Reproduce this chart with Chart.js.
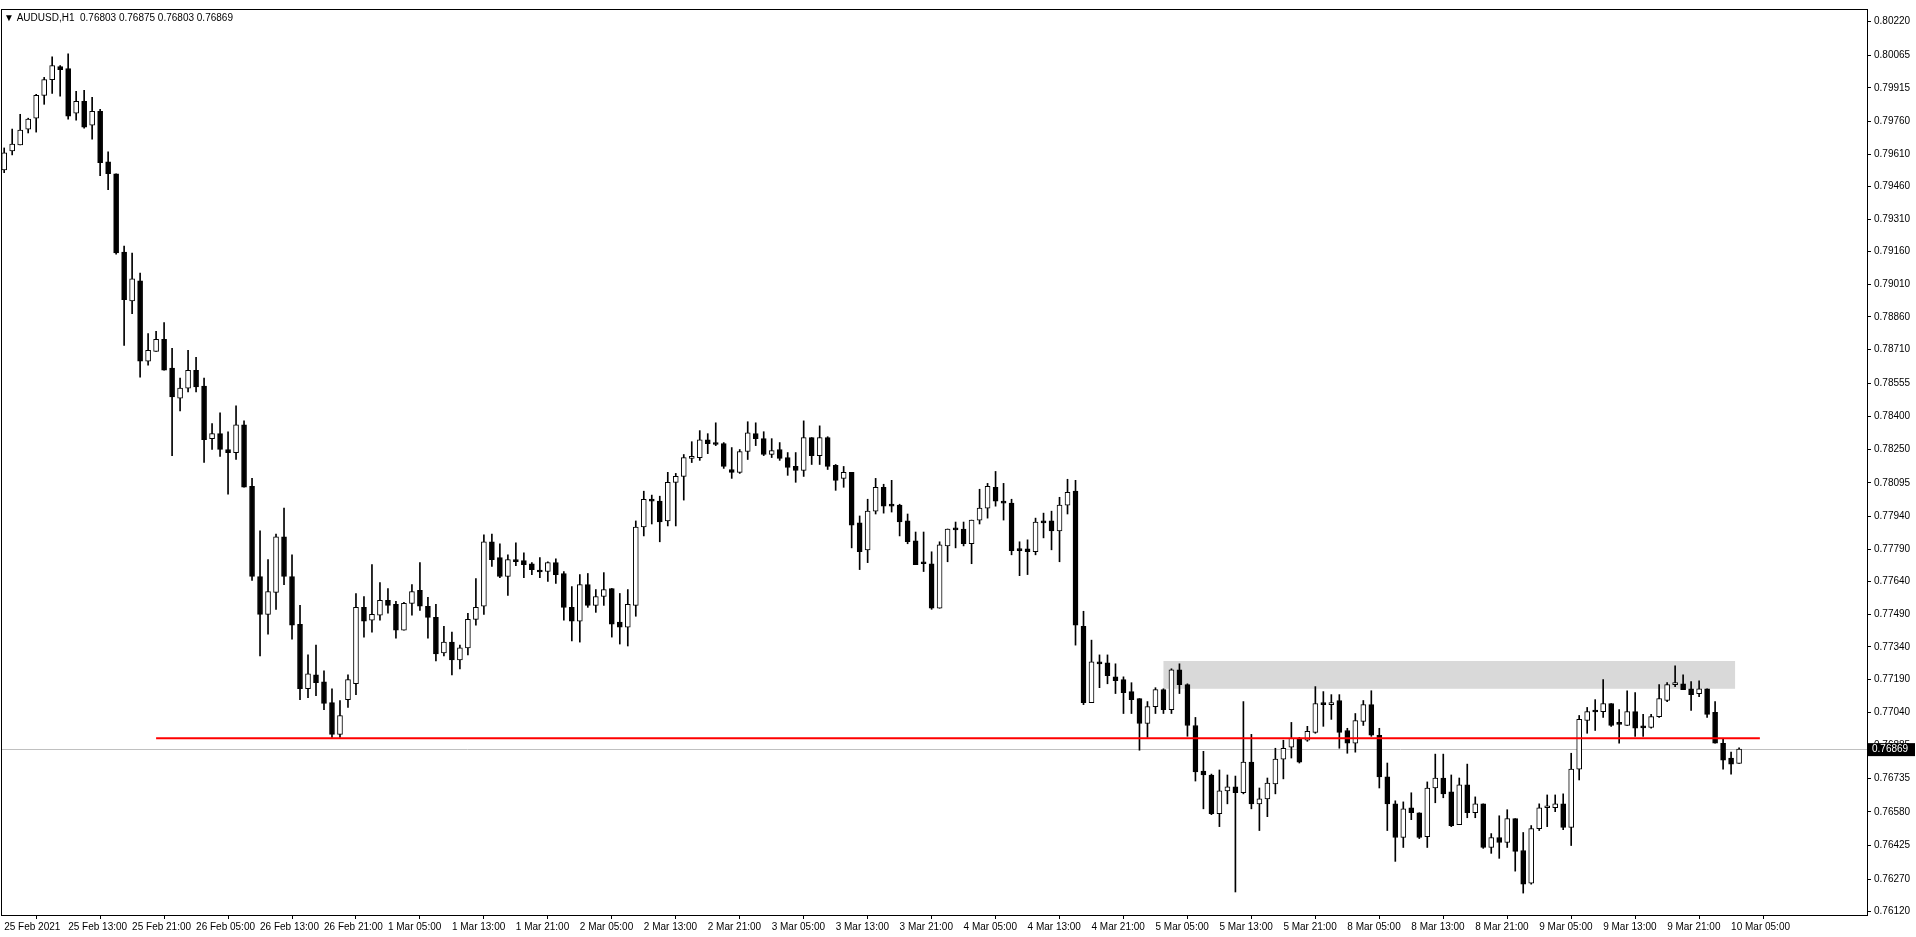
<!DOCTYPE html>
<html><head><meta charset="utf-8">
<script src="https://cdn.jsdelivr.net/npm/chart.js@4"></script>
<style>html,body{margin:0;padding:0;background:#fff;overflow:hidden}#wrap{width:1916px;height:937px;position:relative}</style>
</head><body><div id="wrap"><canvas id="c"></canvas></div>
<script>
const opens=[0.79537,0.79624,0.79652,0.79725,0.79775,0.79880,0.79953,0.80013,0.80004,0.79798,0.79853,0.79743,0.79807,0.79574,0.79519,0.79158,0.78934,0.79026,0.78656,0.78701,0.78756,0.78624,0.78486,0.78532,0.78614,0.78541,0.78299,0.78322,0.78249,0.78235,0.78363,0.78080,0.77664,0.77490,0.77591,0.77847,0.77664,0.77444,0.77147,0.77211,0.77179,0.77083,0.76937,0.77097,0.77170,0.77522,0.77463,0.77486,0.77554,0.77536,0.77417,0.77540,0.77600,0.77527,0.77476,0.77312,0.77362,0.77280,0.77335,0.77467,0.77527,0.77824,0.77751,0.77664,0.77742,0.77737,0.77723,0.77687,0.77687,0.77728,0.77678,0.77522,0.77458,0.77627,0.77531,0.77572,0.77609,0.77454,0.77431,0.77531,0.77892,0.78020,0.78011,0.77920,0.78098,0.78125,0.78208,0.78212,0.78294,0.78281,0.78276,0.78157,0.78144,0.78240,0.78322,0.78299,0.78226,0.78249,0.78212,0.78171,0.78153,0.78304,0.78221,0.78304,0.78176,0.78116,0.78144,0.77911,0.77787,0.77965,0.78075,0.77993,0.77993,0.77920,0.77828,0.77728,0.77723,0.77518,0.77805,0.77888,0.77883,0.77815,0.77924,0.77979,0.78075,0.78011,0.78002,0.77792,0.77792,0.77778,0.77920,0.77920,0.77874,0.77993,0.78057,0.77435,0.77083,0.77271,0.77266,0.77202,0.77189,0.77134,0.77102,0.76987,0.77065,0.77143,0.77051,0.77234,0.77166,0.76978,0.76768,0.76750,0.76572,0.76677,0.76695,0.76668,0.76809,0.76617,0.76640,0.76709,0.76823,0.76878,0.76919,0.76910,0.76946,0.77079,0.77074,0.77093,0.76955,0.76896,0.76997,0.77074,0.76933,0.76741,0.76617,0.76462,0.76599,0.76576,0.76466,0.76690,0.76736,0.76672,0.76521,0.76704,0.76576,0.76617,0.76416,0.76462,0.76439,0.76549,0.76402,0.76252,0.76503,0.76599,0.76599,0.76617,0.76508,0.76777,0.77001,0.77042,0.77042,0.77079,0.76987,0.76978,0.77042,0.76969,0.76969,0.77019,0.77093,0.77166,0.77170,0.77147,0.77125,0.77147,0.77038,0.76896,0.76828,0.76803];
const highs=[0.79638,0.79725,0.79793,0.79775,0.79885,0.79963,0.80058,0.80017,0.80072,0.79899,0.79903,0.79871,0.79816,0.79620,0.79519,0.79186,0.79154,0.79062,0.78783,0.78793,0.78834,0.78715,0.78578,0.78706,0.78674,0.78578,0.78368,0.78418,0.78331,0.78450,0.78381,0.78116,0.77874,0.77742,0.77860,0.77979,0.77764,0.77531,0.77303,0.77348,0.77230,0.77147,0.77093,0.77211,0.77586,0.77572,0.77719,0.77636,0.77609,0.77550,0.77545,0.77627,0.77728,0.77568,0.77536,0.77435,0.77408,0.77348,0.77495,0.77655,0.77856,0.77860,0.77815,0.77764,0.77819,0.77773,0.77728,0.77751,0.77732,0.77746,0.77687,0.77618,0.77673,0.77678,0.77604,0.77682,0.77609,0.77586,0.77604,0.77920,0.78057,0.78039,0.78034,0.78144,0.78139,0.78226,0.78285,0.78336,0.78322,0.78372,0.78281,0.78258,0.78249,0.78377,0.78372,0.78331,0.78299,0.78281,0.78235,0.78235,0.78381,0.78304,0.78358,0.78308,0.78180,0.78171,0.78144,0.77943,0.78020,0.78116,0.78089,0.78107,0.77997,0.77952,0.77869,0.77869,0.77778,0.77824,0.77883,0.77915,0.77915,0.77924,0.78066,0.78093,0.78148,0.78093,0.78020,0.77824,0.77833,0.77933,0.77956,0.77965,0.78029,0.78112,0.78107,0.77504,0.77371,0.77303,0.77303,0.77262,0.77202,0.77175,0.77102,0.77088,0.77152,0.77147,0.77239,0.77262,0.77170,0.77015,0.76859,0.76754,0.76773,0.76750,0.76745,0.77088,0.76937,0.76690,0.76736,0.76873,0.76910,0.76992,0.76923,0.76974,0.77157,0.77134,0.77120,0.77120,0.76965,0.77033,0.77093,0.77138,0.76965,0.76805,0.76631,0.76626,0.76668,0.76576,0.76718,0.76846,0.76846,0.76750,0.76736,0.76800,0.76649,0.76617,0.76480,0.76562,0.76590,0.76549,0.76485,0.76517,0.76617,0.76658,0.76658,0.76663,0.76850,0.77024,0.77061,0.77097,0.77189,0.77079,0.77051,0.77138,0.77129,0.77029,0.77029,0.77166,0.77175,0.77253,0.77211,0.77180,0.77184,0.77147,0.77088,0.76919,0.76855,0.76875];
const lows=[0.79524,0.79606,0.79652,0.79707,0.79711,0.79839,0.79889,0.79876,0.79771,0.79766,0.79729,0.79679,0.79510,0.79446,0.79149,0.78729,0.78875,0.78582,0.78637,0.78701,0.78614,0.78221,0.78427,0.78514,0.78514,0.78189,0.78249,0.78217,0.78043,0.78203,0.78075,0.77646,0.77298,0.77399,0.77513,0.77627,0.77376,0.77097,0.77106,0.77115,0.77051,0.76923,0.76923,0.77061,0.77120,0.77385,0.77408,0.77463,0.77495,0.77380,0.77417,0.77486,0.77508,0.77380,0.77275,0.77298,0.77211,0.77239,0.77303,0.77440,0.77490,0.77710,0.77659,0.77577,0.77714,0.77659,0.77673,0.77659,0.77641,0.77632,0.77463,0.77367,0.77362,0.77522,0.77499,0.77531,0.77385,0.77353,0.77344,0.77481,0.77851,0.77906,0.77824,0.77897,0.77897,0.78016,0.78189,0.78199,0.78230,0.78267,0.78162,0.78116,0.78139,0.78203,0.78267,0.78221,0.78212,0.78199,0.78130,0.78098,0.78125,0.78180,0.78180,0.78157,0.78061,0.78075,0.77796,0.77696,0.77728,0.77952,0.77956,0.77961,0.77851,0.77815,0.77719,0.77687,0.77513,0.77518,0.77732,0.77796,0.77805,0.77723,0.77906,0.77933,0.77988,0.77924,0.77764,0.77668,0.77673,0.77764,0.77842,0.77787,0.77732,0.77952,0.77348,0.77074,0.77083,0.77152,0.77170,0.77125,0.77033,0.77033,0.76864,0.76923,0.77033,0.77033,0.77033,0.77125,0.76928,0.76722,0.76594,0.76567,0.76512,0.76617,0.76211,0.76663,0.76594,0.76494,0.76558,0.76663,0.76732,0.76828,0.76805,0.76905,0.76942,0.76974,0.77006,0.76873,0.76850,0.76855,0.76978,0.76928,0.76690,0.76494,0.76352,0.76416,0.76544,0.76457,0.76416,0.76622,0.76645,0.76512,0.76521,0.76553,0.76553,0.76412,0.76389,0.76366,0.76416,0.76307,0.76206,0.76247,0.76494,0.76512,0.76581,0.76498,0.76425,0.76727,0.76942,0.76955,0.77015,0.76974,0.76896,0.76978,0.76928,0.76928,0.76965,0.77015,0.77088,0.77157,0.77143,0.77047,0.77111,0.77015,0.76896,0.76777,0.76754,0.76803];
const closes=[0.79615,0.79656,0.79720,0.79771,0.79880,0.79953,0.80017,0.79999,0.79784,0.79853,0.79734,0.79807,0.79570,0.79519,0.79154,0.78939,0.79035,0.78656,0.78706,0.78756,0.78614,0.78491,0.78532,0.78614,0.78537,0.78294,0.78322,0.78249,0.78235,0.78363,0.78075,0.77664,0.77490,0.77595,0.77847,0.77664,0.77440,0.77147,0.77216,0.77175,0.77079,0.76937,0.77024,0.77189,0.77522,0.77458,0.77490,0.77554,0.77531,0.77417,0.77540,0.77595,0.77527,0.77476,0.77307,0.77362,0.77280,0.77335,0.77467,0.77522,0.77824,0.77742,0.77664,0.77742,0.77732,0.77719,0.77696,0.77685,0.77728,0.77673,0.77522,0.77458,0.77627,0.77531,0.77572,0.77604,0.77444,0.77431,0.77536,0.77892,0.78020,0.78011,0.77915,0.78098,0.78125,0.78212,0.78212,0.78294,0.78276,0.78272,0.78171,0.78144,0.78240,0.78326,0.78299,0.78226,0.78244,0.78208,0.78167,0.78153,0.78304,0.78221,0.78304,0.78171,0.78107,0.78144,0.77901,0.77778,0.77965,0.78075,0.77988,0.77988,0.77915,0.77824,0.77719,0.77723,0.77518,0.77810,0.77883,0.77879,0.77815,0.77924,0.77979,0.78080,0.78011,0.78002,0.77783,0.77783,0.77778,0.77915,0.77911,0.77874,0.77993,0.78052,0.77440,0.77083,0.77271,0.77262,0.77207,0.77184,0.77129,0.77097,0.76987,0.77065,0.77143,0.77051,0.77234,0.77166,0.76978,0.76764,0.76750,0.76572,0.76677,0.76695,0.76668,0.76809,0.76617,0.76640,0.76713,0.76823,0.76873,0.76919,0.76809,0.76951,0.77079,0.77074,0.77083,0.76946,0.76896,0.77001,0.77074,0.76933,0.76741,0.76617,0.76462,0.76594,0.76576,0.76462,0.76690,0.76736,0.76663,0.76517,0.76704,0.76576,0.76617,0.76416,0.76462,0.76439,0.76549,0.76398,0.76247,0.76503,0.76599,0.76604,0.76617,0.76508,0.76777,0.77006,0.77042,0.77040,0.77079,0.76978,0.76983,0.77042,0.76965,0.76967,0.77019,0.77102,0.77166,0.77168,0.77143,0.77120,0.77147,0.77029,0.76896,0.76818,0.76800,0.76869];
const timeLabels=['25 Feb 2021','25 Feb 13:00','25 Feb 21:00','26 Feb 05:00','26 Feb 13:00','26 Feb 21:00','1 Mar 05:00','1 Mar 13:00','1 Mar 21:00','2 Mar 05:00','2 Mar 13:00','2 Mar 21:00','3 Mar 05:00','3 Mar 13:00','3 Mar 21:00','4 Mar 05:00','4 Mar 13:00','4 Mar 21:00','5 Mar 05:00','5 Mar 13:00','5 Mar 21:00','8 Mar 05:00','8 Mar 13:00','8 Mar 21:00','9 Mar 05:00','9 Mar 13:00','9 Mar 21:00','10 Mar 05:00'];
const labelIdx=timeLabels.map((_,k)=>k*8);
const priceTicks=[0.80220,0.80065,0.79915,0.79760,0.79610,0.79460,0.79310,0.79160,0.79010,0.78860,0.78710,0.78555,0.78400,0.78250,0.78095,0.77940,0.77790,0.77640,0.77490,0.77340,0.77190,0.77040,0.76885,0.76735,0.76580,0.76425,0.76270,0.76120];
const supportLevel=0.76919, supportFrom=19, supportTo=219.6;
const zoneLow=0.77147, zoneHigh=0.77275, zoneFrom=145, zoneTo=216.5;
const lastPrice=0.76869;
const header='\u25BC AUDUSD,H1  0.76803 0.76875 0.76803 0.76869';

const idx=opens.map((_,i)=>i);
const FONT={family:'Liberation Sans, Arial, sans-serif',size:10};
const deco={id:'deco',
 beforeDatasetsDraw(ch){const {ctx,chartArea:a,scales:{x,y}}=ch;ctx.save();
  ctx.fillStyle='#d9d9d9';const x0=x.getPixelForValue(zoneFrom),x1=x.getPixelForValue(zoneTo),y0=y.getPixelForValue(zoneHigh),y1=y.getPixelForValue(zoneLow);
  ctx.fillRect(x0,y0,x1-x0,y1-y0);
  const py=Math.round(y.getPixelForValue(lastPrice))+0.5;ctx.strokeStyle='#c0c0c0';ctx.lineWidth=1;ctx.beginPath();ctx.moveTo(a.left,py);ctx.lineTo(a.right,py);ctx.stroke();ctx.restore();},
 afterDraw(ch){const {ctx,chartArea:a,scales:{y}}=ch;ctx.save();
  ctx.strokeStyle='#000';ctx.lineWidth=1;ctx.strokeRect(a.left+0.5,a.top+0.5,a.right-a.left,a.bottom-a.top);
  ctx.font='10px Liberation Sans, Arial, sans-serif';ctx.fillStyle='#000';ctx.textBaseline='middle';ctx.textAlign='left';ctx.fillText(header,a.left+3,a.top+9);
  const py=y.getPixelForValue(lastPrice);ctx.fillStyle='#000';ctx.fillRect(a.right+1,py-6,47,13);ctx.fillStyle='#fff';ctx.fillText(lastPrice.toFixed(5),a.right+5,py+0.5);
  ctx.restore();}};
new Chart(document.getElementById('c'),{
 type:'bar',
 data:{datasets:[
  {label:'wick',data:idx.map(i=>({x:i,y:[lows[i],highs[i]]})),backgroundColor:'#000',barThickness:1,grouped:false,order:2},
  {label:'body',data:idx.map(i=>({x:i,y:[Math.min(opens[i],closes[i]),Math.max(opens[i],closes[i])]})),
   backgroundColor:idx.map(i=>closes[i]>opens[i]?'#fff':'#000'),borderColor:'#000',borderWidth:1,borderSkipped:false,barThickness:5,minBarLength:2,grouped:false,order:1},
  {type:'line',label:'support',data:[{x:supportFrom,y:supportLevel},{x:supportTo,y:supportLevel}],borderColor:'#ff0000',borderWidth:2,pointRadius:0,order:0}
 ]},
 options:{responsive:true,maintainAspectRatio:false,animation:false,devicePixelRatio:1,
  layout:{padding:{top:1,left:1,right:0,bottom:0}},
  plugins:{legend:{display:false},tooltip:{enabled:false}},
  scales:{
   x:{type:'linear',min:-0.4,max:233,offset:false,
    afterFit(s){s.height=22;},
    afterBuildTicks(s){s.ticks=labelIdx.map(v=>({value:v}));},
    ticks:{autoSkip:false,maxRotation:0,align:'start',padding:2,color:'#000',font:FONT,callback:v=>timeLabels[labelIdx.indexOf(v)]},
    grid:{drawOnChartArea:false,tickLength:4,color:'#000'},border:{display:false}},
   y:{type:'linear',position:'right',min:0.76105,max:0.80278,
    afterFit(s){s.width=49;},
    afterBuildTicks(s){s.ticks=priceTicks.map(v=>({value:v}));},
    ticks:{autoSkip:false,padding:3,color:'#000',font:FONT,callback:v=>v.toFixed(5)},
    grid:{drawOnChartArea:false,tickLength:4,color:'#000'},border:{display:false}}
  }},
 plugins:[deco]});
</script></body></html>
